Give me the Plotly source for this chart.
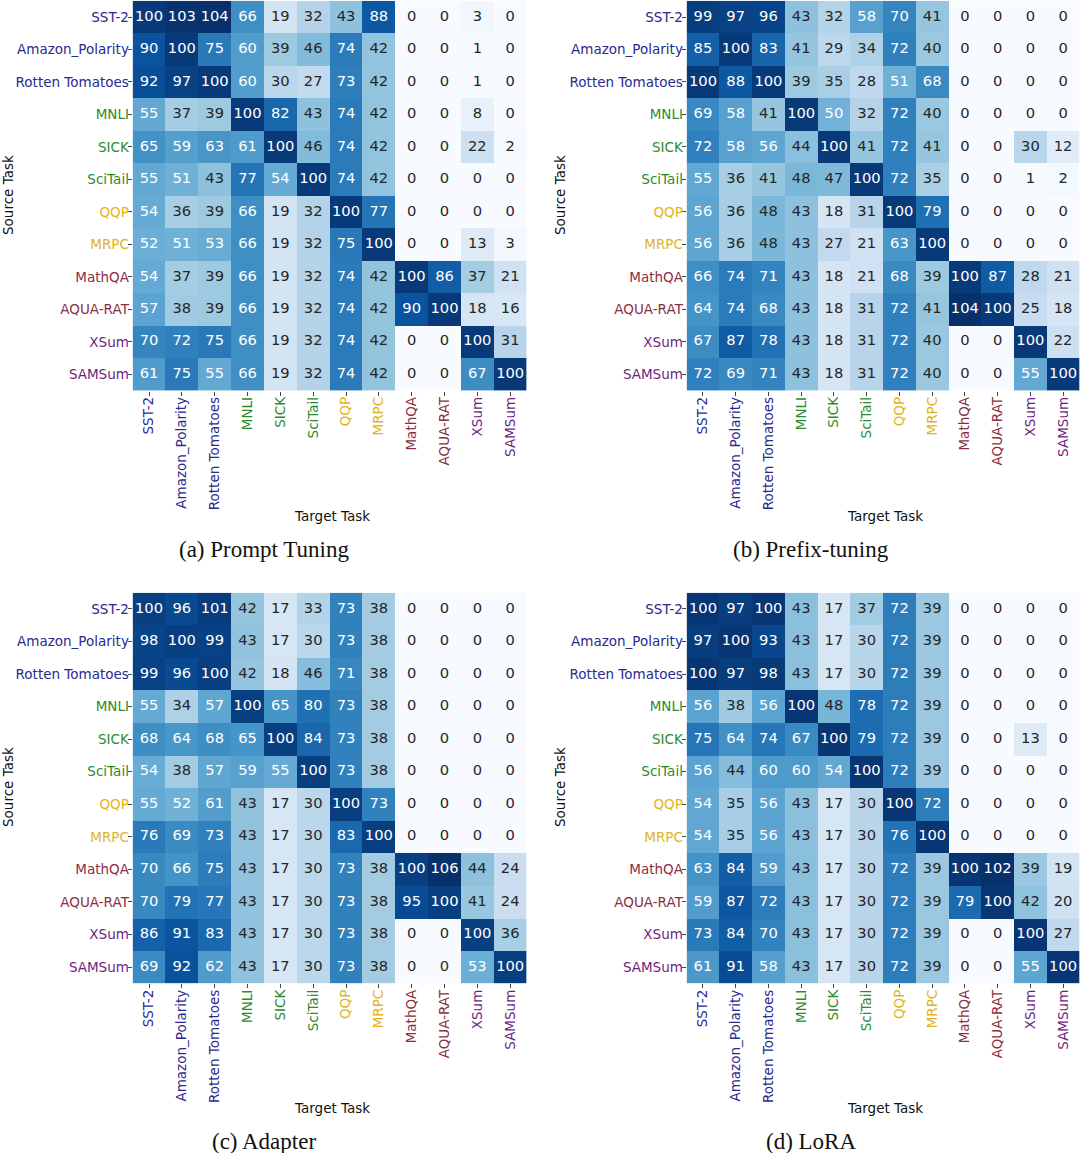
import plotly.graph_objects as go

# ---------------- data ----------------
tasks = ["SST-2", "Amazon_Polarity", "Rotten Tomatoes", "MNLI", "SICK", "SciTail",
         "QQP", "MRPC", "MathQA", "AQUA-RAT", "XSum", "SAMSum"]
task_groups = ["sent", "sent", "sent", "nli", "nli", "nli",
               "para", "para", "math", "math", "summ", "summ"]
group_colors = {"sent": "#2a2a8e", "nli": "#2e8a2e", "para": "#e2b21e",
                "math": "#8a2f42", "summ": "#6e1f7e"}

prompt_tuning = [
    [100, 103, 104, 66, 19, 32, 43, 88, 0, 0, 3, 0],
    [90, 100, 75, 60, 39, 46, 74, 42, 0, 0, 1, 0],
    [92, 97, 100, 60, 30, 27, 73, 42, 0, 0, 1, 0],
    [55, 37, 39, 100, 82, 43, 74, 42, 0, 0, 8, 0],
    [65, 59, 63, 61, 100, 46, 74, 42, 0, 0, 22, 2],
    [55, 51, 43, 77, 54, 100, 74, 42, 0, 0, 0, 0],
    [54, 36, 39, 66, 19, 32, 100, 77, 0, 0, 0, 0],
    [52, 51, 53, 66, 19, 32, 75, 100, 0, 0, 13, 3],
    [54, 37, 39, 66, 19, 32, 74, 42, 100, 86, 37, 21],
    [57, 38, 39, 66, 19, 32, 74, 42, 90, 100, 18, 16],
    [70, 72, 75, 66, 19, 32, 74, 42, 0, 0, 100, 31],
    [61, 75, 55, 66, 19, 32, 74, 42, 0, 0, 67, 100],
]
prefix_tuning = [
    [99, 97, 96, 43, 32, 58, 70, 41, 0, 0, 0, 0],
    [85, 100, 83, 41, 29, 34, 72, 40, 0, 0, 0, 0],
    [100, 88, 100, 39, 35, 28, 51, 68, 0, 0, 0, 0],
    [69, 58, 41, 100, 50, 32, 72, 40, 0, 0, 0, 0],
    [72, 58, 56, 44, 100, 41, 72, 41, 0, 0, 30, 12],
    [55, 36, 41, 48, 47, 100, 72, 35, 0, 0, 1, 2],
    [56, 36, 48, 43, 18, 31, 100, 79, 0, 0, 0, 0],
    [56, 36, 48, 43, 27, 21, 63, 100, 0, 0, 0, 0],
    [66, 74, 71, 43, 18, 21, 68, 39, 100, 87, 28, 21],
    [64, 74, 68, 43, 18, 31, 72, 41, 104, 100, 25, 18],
    [67, 87, 78, 43, 18, 31, 72, 40, 0, 0, 100, 22],
    [72, 69, 71, 43, 18, 31, 72, 40, 0, 0, 55, 100],
]
adapter = [
    [100, 96, 101, 42, 17, 33, 73, 38, 0, 0, 0, 0],
    [98, 100, 99, 43, 17, 30, 73, 38, 0, 0, 0, 0],
    [99, 96, 100, 42, 18, 46, 71, 38, 0, 0, 0, 0],
    [55, 34, 57, 100, 65, 80, 73, 38, 0, 0, 0, 0],
    [68, 64, 68, 65, 100, 84, 73, 38, 0, 0, 0, 0],
    [54, 38, 57, 59, 55, 100, 73, 38, 0, 0, 0, 0],
    [55, 52, 61, 43, 17, 30, 100, 73, 0, 0, 0, 0],
    [76, 69, 73, 43, 17, 30, 83, 100, 0, 0, 0, 0],
    [70, 66, 75, 43, 17, 30, 73, 38, 100, 106, 44, 24],
    [70, 79, 77, 43, 17, 30, 73, 38, 95, 100, 41, 24],
    [86, 91, 83, 43, 17, 30, 73, 38, 0, 0, 100, 36],
    [69, 92, 62, 43, 17, 30, 73, 38, 0, 0, 53, 100],
]
lora = [
    [100, 97, 100, 43, 17, 37, 72, 39, 0, 0, 0, 0],
    [97, 100, 93, 43, 17, 30, 72, 39, 0, 0, 0, 0],
    [100, 97, 98, 43, 17, 30, 72, 39, 0, 0, 0, 0],
    [56, 38, 56, 100, 48, 78, 72, 39, 0, 0, 0, 0],
    [75, 64, 74, 67, 100, 79, 72, 39, 0, 0, 13, 0],
    [56, 44, 60, 60, 54, 100, 72, 39, 0, 0, 0, 0],
    [54, 35, 56, 43, 17, 30, 100, 72, 0, 0, 0, 0],
    [54, 35, 56, 43, 17, 30, 76, 100, 0, 0, 0, 0],
    [63, 84, 59, 43, 17, 30, 72, 39, 100, 102, 39, 19],
    [59, 87, 72, 43, 17, 30, 72, 39, 79, 100, 42, 20],
    [73, 84, 70, 43, 17, 30, 72, 39, 0, 0, 100, 27],
    [61, 91, 58, 43, 17, 30, 72, 39, 0, 0, 55, 100],
]
captions = ["(a) Prompt Tuning", "(b) Prefix-tuning", "(c) Adapter", "(d) LoRA"]

# ---------------- style ----------------
W, H = 1080, 1153


def px(x):
    return x / W


def py(y):
    return 1 - y / H


blues = ["#f7fbff", "#deebf7", "#c6dbef", "#9ecae1", "#6baed6",
         "#4292c6", "#2171b5", "#08519c", "#08306b"]
colorscale = [[i / 8, c] for i, c in enumerate(blues)]
NUM_FONT = "DejaVu Sans"


def hex2rgb(h):
    h = h.lstrip("#")
    return [int(h[i:i + 2], 16) / 255 for i in (0, 2, 4)]


def cmap(t):
    t = min(max(t, 0.0), 1.0)
    pos = t * 8
    i = min(int(pos), 7)
    f = pos - i
    a, b = hex2rgb(blues[i]), hex2rgb(blues[i + 1])
    return [a[k] + (b[k] - a[k]) * f for k in range(3)]


def luminance(rgb):
    lin = [c / 12.92 if c <= 0.03928 else ((c + 0.055) / 1.055) ** 2.4 for c in rgb]
    return 0.2126 * lin[0] + 0.7152 * lin[1] + 0.0722 * lin[2]


ticktext = ['<span style="color:%s">%s</span>' % (group_colors[g], t)
            for t, g in zip(tasks, task_groups)]

# panel pixel boxes (page coords): left, right, top, bottom
boxes = [(132.6, 526.6, 0.8, 390.5), (686.6, 1079.5, 0.8, 390.5),
         (132.6, 526.6, 592.7, 983.3), (686.6, 1079.5, 592.7, 983.3)]
matrices = [prompt_tuning, prefix_tuning, adapter, lora]
n = len(tasks)

fig = go.Figure()
annotations = []
for p, (mat, cap, box) in enumerate(zip(matrices, captions, boxes)):
    idx = "" if p == 0 else str(p + 1)
    xa, ya = "x" + idx, "y" + idx
    zmax = max(max(r) for r in mat)
    zmin = min(min(r) for r in mat)
    fig.add_trace(go.Heatmap(z=mat, x=tasks, y=tasks, colorscale=colorscale,
                             zmin=zmin, zmax=zmax, showscale=False,
                             xaxis=xa, yaxis=ya, hoverinfo="skip"))
    xs, ys, txt, cols = [], [], [], []
    for i, src in enumerate(tasks):
        for j, tgt in enumerate(tasks):
            v = mat[i][j]
            xs.append(tgt)
            ys.append(src)
            txt.append(str(v))
            lum = luminance(cmap((v - zmin) / (zmax - zmin)))
            cols.append("#262626" if lum > 0.408 else "#ffffff")
    fig.add_trace(go.Scatter(x=xs, y=ys, text=txt, mode="text",
                             textposition="middle center",
                             textfont=dict(family=NUM_FONT, size=14.7, color=cols),
                             xaxis=xa, yaxis=ya, hoverinfo="skip", showlegend=False))
    l, r, t, b = box
    axis_common = dict(type="category", categoryorder="array", categoryarray=tasks,
                       tickvals=tasks, ticktext=ticktext, ticks="outside",
                       ticklen=4, tickwidth=1, tickcolor="#444",
                       ticklabelstandoff=-4,
                       showgrid=False, zeroline=False, showline=False,
                       tickfont=dict(family=NUM_FONT, size=13.5, color="#222"))
    fig.update_layout(**{
        "xaxis" + idx: dict(domain=[px(l), px(r)], anchor=ya, tickangle=-90,
                            range=[-0.5, n - 0.5], autorange=False, **axis_common),
        "yaxis" + idx: dict(domain=[py(b), py(t)], anchor=xa,
                            range=[n - 0.5, -0.5], autorange=False, **axis_common),
    })
    left_col = p % 2 == 0
    top_row = p < 2
    annotations.append(dict(text="Source Task", x=px(8 if left_col else 560),
                            y=py(195 if top_row else 787), xref="paper",
                            yref="paper", textangle=-90, showarrow=False,
                            xanchor="center", yanchor="middle",
                            font=dict(family=NUM_FONT, size=13.5, color="#111")))
    annotations.append(dict(text="Target Task", x=px(332 if left_col else 885),
                            y=py(516 if top_row else 1108), xref="paper",
                            yref="paper", showarrow=False,
                            xanchor="center", yanchor="middle",
                            font=dict(family=NUM_FONT, size=13.5, color="#111")))
    annotations.append(dict(text=cap, x=px(264 if left_col else 811),
                            y=py(549 if top_row else 1141), xref="paper",
                            yref="paper", showarrow=False,
                            xanchor="center", yanchor="middle",
                            font=dict(family="Liberation Serif", size=23, color="#111")))

fig.update_layout(width=W, height=H, margin=dict(l=0, r=0, t=0, b=0),
                  paper_bgcolor="white", plot_bgcolor="white",
                  showlegend=False, annotations=annotations)
fig.write_html("out.html", config={"displayModeBar": False},
               post_script="document.body.style.margin='0';"
                           "document.body.style.overflow='hidden';")
